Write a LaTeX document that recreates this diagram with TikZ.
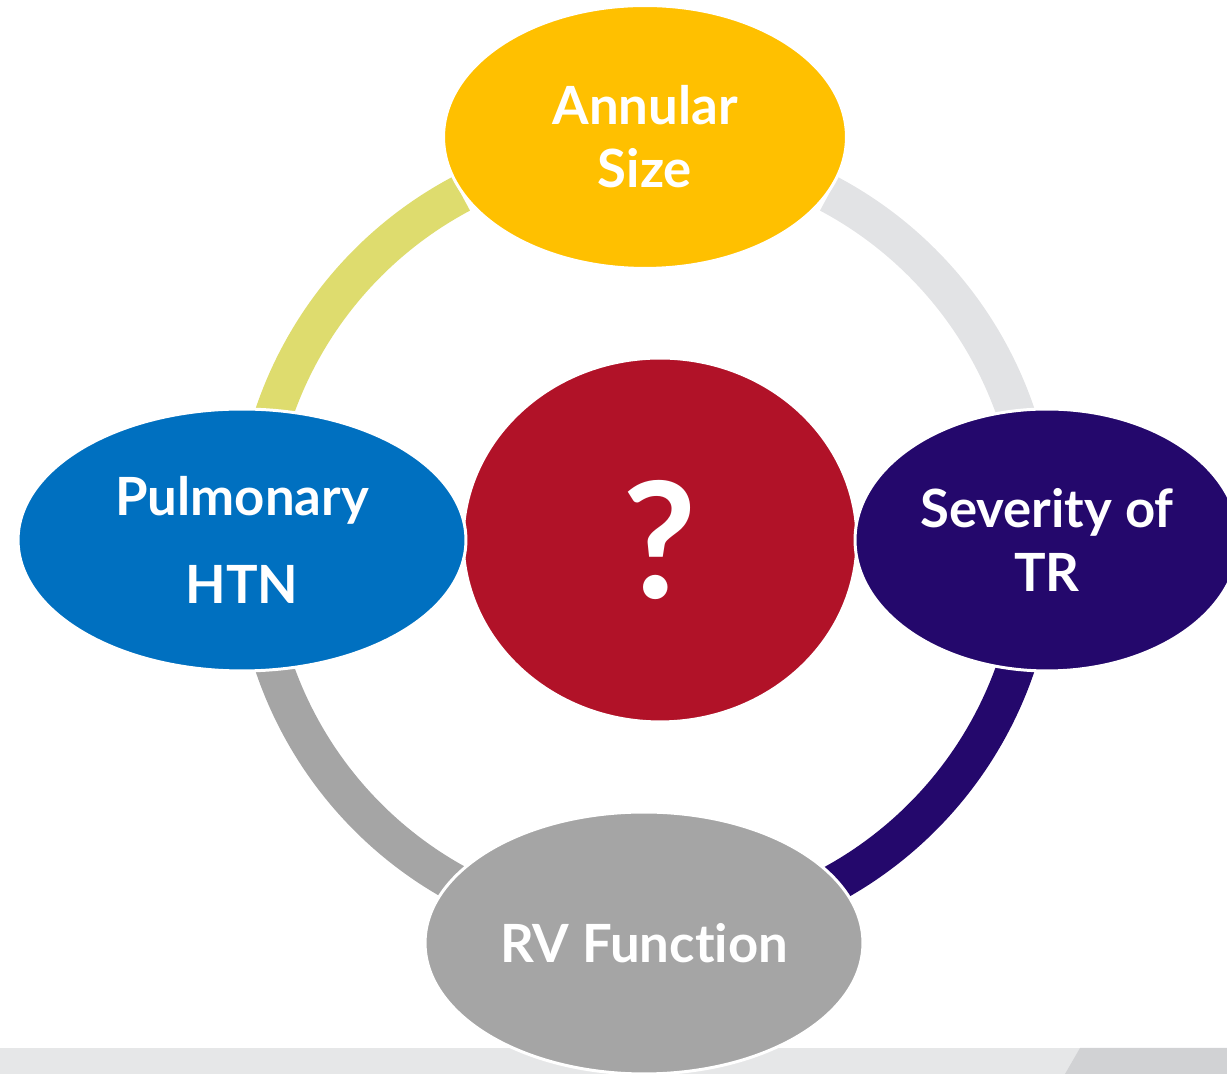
\documentclass[tikz,border=0pt]{standalone}
\usepackage{fontspec}
\setmainfont{Lato}[Ligatures=NoCommon]
\usetikzlibrary{shapes.geometric}

\definecolor{annularyellow}{HTML}{FFC000}
\definecolor{htnblue}{HTML}{0070C0}
\definecolor{trpurple}{HTML}{24086C}
\definecolor{rvgray}{HTML}{A5A5A5}
\definecolor{qred}{HTML}{B11228}
\definecolor{arcolive}{HTML}{DEDC6E}
\definecolor{arclight}{HTML}{E2E3E5}
\definecolor{striplight}{HTML}{E6E7E8}
\definecolor{stripdark}{HTML}{D1D2D4}

\begin{document}
\begin{tikzpicture}[x=0.02cm, y=0.02cm,
  blob/.style={ellipse, draw=white, line width=1.7pt, inner sep=0pt, text=white, align=center,
    font=\bfseries\fontsize{30}{36}\selectfont},
  ring/.style={line width=38*0.02cm, line cap=butt}
]
  \useasboundingbox (0,0) rectangle (1227,1074);

  % footer band
  \fill[striplight] (0,0) rectangle (1227,26);
  \fill[stripdark] (1065,0) -- (1080,26) -- (1227,26) -- (1227,0) -- cycle;

  % ring segments round the hub (tucked under the ellipses)
  \coordinate (hub) at (645,534);
  \draw[ring, arcolive] ([shift={(118:392)}]hub) arc[start angle=118, end angle=163, radius=392];
  \draw[ring, arclight] ([shift={(17:392)}]hub) arc[start angle=17, end angle=62, radius=392];
  \draw[ring, trpurple] ([shift={(-17:392)}]hub) arc[start angle=-17, end angle=-62, radius=392];
  \draw[ring, rvgray] ([shift={(-163:392)}]hub) arc[start angle=-163, end angle=-118, radius=392];

  % middle
  \node[blob, fill=qred, minimum width=7.88cm, minimum height=7.28cm,
    font=\bfseries\fontsize{92}{92}\selectfont] (question) at (660,534) {?};

  % the four factors
  \node[blob, fill=annularyellow, minimum width=8.06cm, minimum height=5.26cm] (annular) at (645,937) {Annular\\Size};
  \node[blob, fill=htnblue, minimum width=8.96cm, minimum height=5.24cm,
    font=\bfseries\fontsize{30}{50}\selectfont] (pulmonary) at (242,534) {Pulmonary\\HTN};
  \node[blob, fill=trpurple, minimum width=7.68cm, minimum height=5.24cm] (severity) at (1047,534) {Severity of\\TR};
  \node[blob, fill=rvgray, minimum width=8.76cm, minimum height=5.24cm] (rvfunc) at (644,131) {RV Function};
\end{tikzpicture}
\end{document}
